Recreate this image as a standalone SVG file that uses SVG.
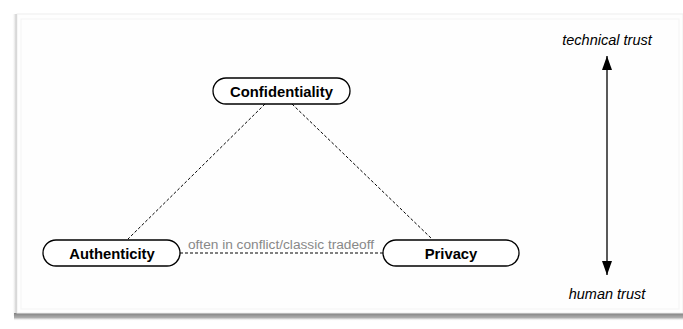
<svg xmlns="http://www.w3.org/2000/svg" width="683" height="329" viewBox="0 0 683 329">
<defs>
<linearGradient id="bsh" x1="0" y1="0" x2="0" y2="1">
<stop offset="0" stop-color="#808080"/><stop offset="0.6" stop-color="#b0b0b0"/><stop offset="1" stop-color="#fff" stop-opacity="0"/>
</linearGradient>
<linearGradient id="lsh" x1="1" y1="0" x2="0" y2="0">
<stop offset="0" stop-color="#b5b5b5"/><stop offset="1" stop-color="#fff" stop-opacity="0"/>
</linearGradient>
<marker id="big" viewBox="0 0 14 10" refX="14" refY="5" markerWidth="15" markerHeight="10" markerUnits="userSpaceOnUse" orient="auto-start-reverse">
<path d="M0,0 L14,5 L0,10 z" fill="#000"/>
</marker>
</defs>
<style>
.node rect{fill:#fff;stroke:#000;stroke-width:1.3}
.node text{font-family:"Liberation Sans",Arial,sans-serif;font-weight:bold;font-size:14.8px;text-anchor:middle;fill:#000}
.dash{stroke:#000;stroke-width:1;stroke-dasharray:3,2;fill:none}
.it{font-family:"Liberation Sans",Arial,sans-serif;font-style:italic;font-size:14.5px;text-anchor:middle;fill:#000}
.lbl{font-family:"Liberation Sans",Arial,sans-serif;font-size:13.7px;text-anchor:middle;fill:#888}
</style>
<rect x="0" y="0" width="683" height="329" fill="#fff"/>
<rect x="12" y="14" width="5" height="302" fill="url(#lsh)"/>
<rect x="14" y="313" width="669" height="8" fill="url(#bsh)"/>
<rect x="17" y="14" width="666" height="299" fill="#fefefe" stroke="#eee" stroke-width="1"/>
<rect x="21" y="19" width="658" height="290" fill="none" stroke="#f4f4f4" stroke-width="1"/>
<g id="connectors">
<line class="dash" x1="265" y1="104" x2="128" y2="239"/>
<line class="dash" x1="292" y1="104" x2="432" y2="239"/>
<line class="dash" x1="180" y1="253" x2="383" y2="253"/>
<text class="lbl" x="281" y="249">often in conflict/classic tradeoff</text>
<line x1="607" y1="56" x2="607" y2="275" stroke="#000" stroke-width="1.3" marker-start="url(#big)" marker-end="url(#big)"/>
</g>
<g id="confidentiality" class="node">
<rect x="213" y="78" width="137" height="26" rx="13" ry="13"/>
<text x="281.5" y="96.5">Confidentiality</text>
</g>
<g id="authenticity" class="node">
<rect x="43" y="240" width="137" height="26" rx="13" ry="13"/>
<text x="112" y="258.5">Authenticity</text>
</g>
<g id="privacy" class="node">
<rect x="383" y="240" width="136" height="26" rx="13" ry="13"/>
<text x="451" y="258.5">Privacy</text>
</g>
<g id="axis-labels">
<text class="it" x="607" y="45">technical trust</text>
<text class="it" x="607" y="299">human trust</text>
</g>
</svg>
